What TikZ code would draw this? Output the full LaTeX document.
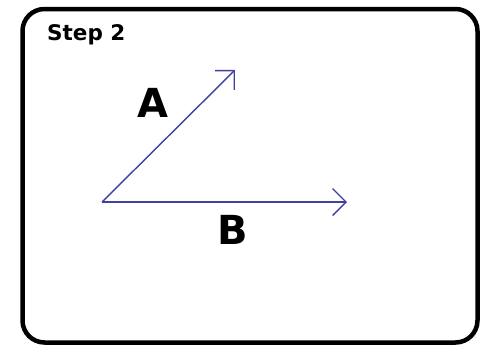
\documentclass[tikz,border=0pt]{standalone}
\usepackage{fontspec}
\setmainfont{DejaVu Sans}
\usetikzlibrary{arrows.meta}
\definecolor{vec}{RGB}{64,64,160}
\begin{document}
\begin{tikzpicture}[x=1pt,y=-1pt,
  frame/.style={draw=black,line width=4.5pt,rounded corners=22pt},
  vector/.style={draw=vec,line width=1.4pt,-{Straight Barb[length=13.5pt,width=27pt,line width=1.4pt]}},
  biglabel/.style={font=\fontsize{40}{40}\bfseries\selectfont,inner sep=0pt},
  title/.style={font=\fontsize{21.5}{21.5}\bfseries\selectfont,inner sep=0pt,anchor=west}]
\useasboundingbox (0,0) rectangle (480,346);
\fill[white] (0,0) rectangle (480,346);
\draw[frame] (22.5,9) rectangle (477.5,342.5);
\node[title] (step) at (47,35) {Step 2};
\coordinate (o) at (102,202);
\coordinate (a) at (235,70);
\coordinate (b) at (347,202);
\draw[vector] (o) -- (a);
\draw[vector] (o) -- (b);
\node[biglabel] (la) at (153,102.5) {A};
\node[biglabel] (lb) at (233,230) {B};
\end{tikzpicture}
\end{document}
